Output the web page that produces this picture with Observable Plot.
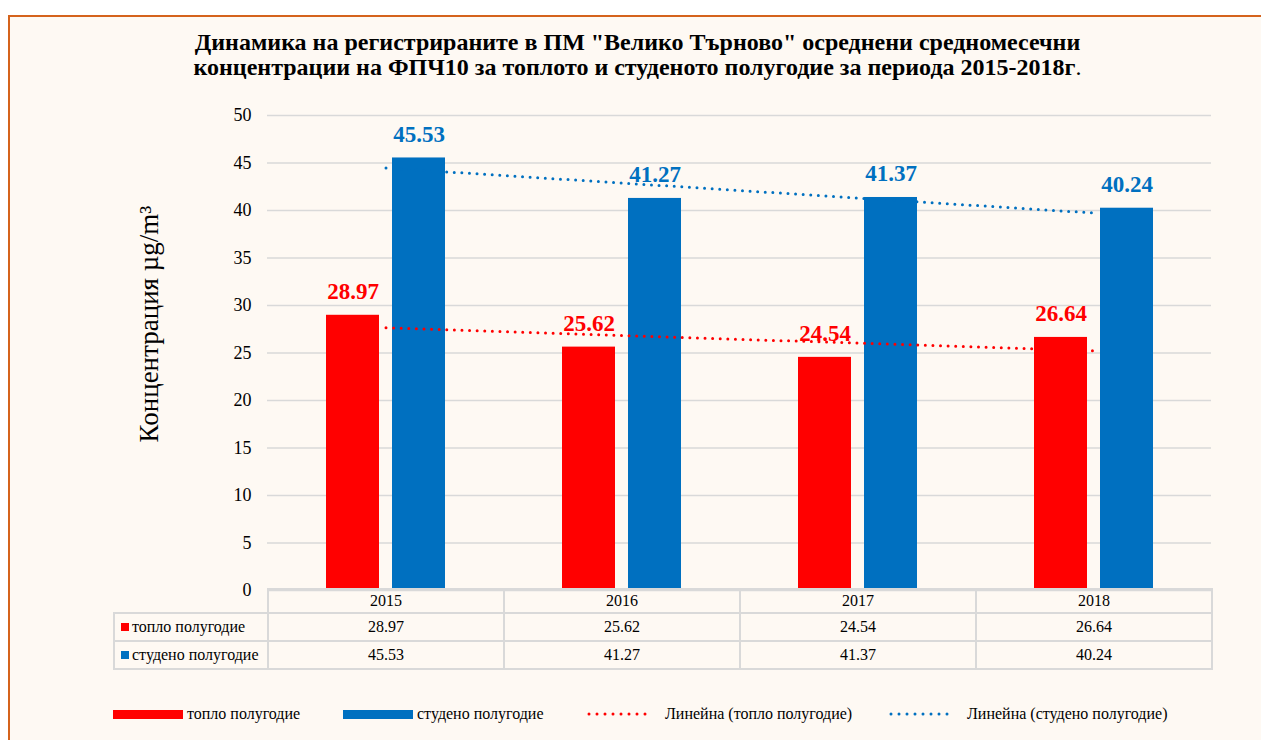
<!DOCTYPE html>
<html>
<head>
<meta charset="utf-8">
<script src="https://cdn.jsdelivr.net/npm/d3@7"></script>
<script src="https://cdn.jsdelivr.net/npm/@observablehq/plot@0.6"></script>
<style>
  html, body { margin: 0; padding: 0; background: #ffffff; }
  #page { position: relative; width: 1261px; height: 740px; overflow: hidden; font-family: 'Liberation Serif', 'Times New Roman', serif; color: #000; }
  #frame { position: absolute; left: 8px; top: 15px; width: 1300px; height: 800px; border-left: 2px solid #d5631c; border-top: 2px solid #d5631c; background: #fef9f3; }
  #title { position: absolute; left: 0; top: 30px; width: 1275px; text-align: center; font-weight: bold; font-size: 24px; line-height: 25px; }
  #chart { position: absolute; left: 0; top: 100px; }
  #table { position: absolute; left: 113px; top: 588px; border-collapse: collapse; font-size: 16px; table-layout: fixed; }
  #table td { border: 2px solid #d9d9d9; text-align: center; padding: 0; white-space: nowrap; }
  #table td.lab { text-align: left; padding-left: 6px; }
  #table td.blank { border-top: none; border-left: none; }
  .sq { display: inline-block; width: 8px; height: 8px; margin-right: 3px; vertical-align: 1px; }
  .leg { position: absolute; top: 704px; font-size: 16px; line-height: 20px; display: flex; align-items: center; white-space: nowrap; }
</style>
</head>
<body>
<div id="page">
  <div id="frame"></div>
  <div id="title"></div>
  <div id="chart"></div>
  <table id="table"></table>
  <div id="legend"></div>
</div>
<script>
// ---- data ----
const years = ["2015", "2016", "2017", "2018"];
const warmValues = [28.97, 25.62, 24.54, 26.64];
const coldValues = [45.53, 41.27, 41.37, 40.24];
const seriesNames = ["топло полугодие", "студено полугодие"];
const trendNames = ["Линейна (топло полугодие)", "Линейна (студено полугодие)"];
const titleLines = ["Динамика на регистрираните в ПМ \"Велико Търново\" осреднени средномесечни", "концентрации на ФПЧ10 за топлото и студеното полугодие за периода 2015-2018г<span style=\"font-weight:normal\">.</span>"];
const yLabel = "Концентрация µg/m³";
const yTicks = [0, 5, 10, 15, 20, 25, 30, 35, 40, 45, 50];
const colors = ["#ff0000", "#0070c0"];

// ---- derived ----
const rows = years.map((y, i) => ({year: y, warm: warmValues[i], cold: coldValues[i]}));
function linearFit(vals) {
  const xs = vals.map((_, i) => i);
  const mx = d3.mean(xs), my = d3.mean(vals);
  const b = d3.sum(xs, (x, i) => (x - mx) * (vals[i] - my)) / d3.sum(xs, x => (x - mx) ** 2);
  const a = my - b * mx;
  return xs.map(x => a + b * x);
}
const warmTrend = linearFit(warmValues).map((v, i) => ({year: years[i], v}));
const coldTrend = linearFit(coldValues).map((v, i) => ({year: years[i], v}));

// ---- title ----
document.getElementById("title").innerHTML = titleLines.map(l => `<div>${l}</div>`).join("");

// ---- chart ----
const chart = Plot.plot({
  width: 1261,
  height: 500,
  marginLeft: 267,
  marginRight: 50,
  marginTop: 15,
  marginBottom: 10,
  style: {background: "transparent", fontFamily: "'Liberation Serif', 'Times New Roman', serif", fontSize: "18px", color: "#000", overflow: "visible"},
  x: {domain: years, paddingInner: 0.496, paddingOuter: 0.248, axis: null},
  y: {domain: [0, 50], ticks: 10, tickSize: 0, tickPadding: 16, label: null},
  marks: [
    Plot.ruleY(yTicks, {stroke: "#d9d9d9", strokeWidth: 1.6}),
    Plot.barY(rows, {x: "year", y: "warm", fill: colors[0], insetRight: 66}),
    Plot.barY(rows, {x: "year", y: "cold", fill: colors[1], insetLeft: 66}),
    Plot.line(warmTrend, {x: "year", y: "v", stroke: colors[0], strokeWidth: 3, strokeDasharray: "0 7.6", strokeLinecap: "round"}),
    Plot.line(coldTrend, {x: "year", y: "v", stroke: colors[1], strokeWidth: 3, strokeDasharray: "0 7.6", strokeLinecap: "round"}),
    Plot.text(rows, {x: "year", y: "warm", text: d => d.warm.toFixed(2), dx: -33, dy: -16, lineAnchor: "bottom", fill: colors[0], fontWeight: "bold", fontSize: 23}),
    Plot.text(rows, {x: "year", y: "cold", text: d => d.cold.toFixed(2), dx: 33, dy: -16, lineAnchor: "bottom", fill: colors[1], fontWeight: "bold", fontSize: 23}),
    Plot.text([yLabel], {frameAnchor: "left", textAnchor: "middle", text: d => d, rotate: -90, dx: -118, dy: -29, fontSize: 27, fill: "#000"})
  ]
});
document.getElementById("chart").appendChild(chart);

// ---- data table ----
const table = document.getElementById("table");
const colW = [154, 236, 236, 236, 236];
table.innerHTML =
  `<colgroup>${colW.map(w => `<col style="width:${w}px">`).join("")}</colgroup>` +
  `<tr style="height:24px"><td class="blank"></td>${years.map(y => `<td>${y}</td>`).join("")}</tr>` +
  [warmValues, coldValues].map((vals, s) =>
    `<tr style="height:28px"><td class="lab"><span class="sq" style="background:${colors[s]}"></span>${seriesNames[s]}</td>${vals.map(v => `<td>${v.toFixed(2)}</td>`).join("")}</tr>`
  ).join("");

// ---- legend ----
const legend = document.getElementById("legend");
const legX = [113, 343, 587, 889];
const items = [
  {x: legX[0], kind: "rect", color: colors[0], label: seriesNames[0]},
  {x: legX[1], kind: "rect", color: colors[1], label: seriesNames[1]},
  {x: legX[2], kind: "dot", color: colors[0], label: trendNames[0]},
  {x: legX[3], kind: "dot", color: colors[1], label: trendNames[1]}
];
legend.innerHTML = items.map(it => {
  const sw = it.kind === "rect"
    ? `<span style="display:inline-block;width:70px;height:9px;background:${it.color};margin-right:4px"></span>`
    : `<svg width="76" height="10" style="margin-right:2px"><line x1="2" x2="66" y1="5" y2="5" stroke="${it.color}" stroke-width="3" stroke-dasharray="0 8" stroke-linecap="round"/></svg>`;
  return `<div class="leg" style="left:${it.x}px">${sw}<span>${it.label}</span></div>`;
}).join("");
</script>
</body>
</html>
